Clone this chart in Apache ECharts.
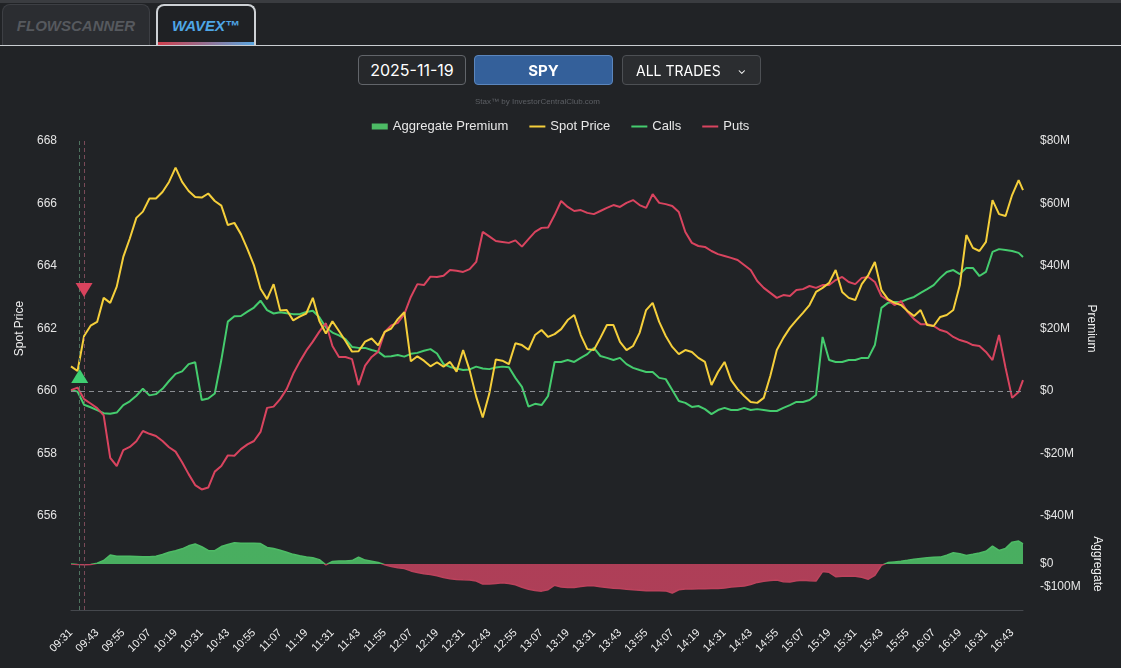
<!DOCTYPE html>
<html>
<head>
<meta charset="utf-8">
<script src="https://cdn.jsdelivr.net/npm/echarts@6/dist/echarts.min.js"></script>
<style>
  html,body{margin:0;padding:0;width:1121px;height:668px;background:#212326;overflow:hidden;font-family:"Liberation Sans",Arial,sans-serif;}
  #topstrip{position:absolute;left:0;top:0;width:1121px;height:3px;background:#3a3c40;}
  #tabline{position:absolute;left:0;top:45px;width:1121px;height:1px;background:#c9cdd1;}
  .tab{position:absolute;top:4px;height:41px;box-sizing:border-box;border-radius:8px 8px 0 0;font-style:italic;font-weight:bold;font-size:15px;display:flex;align-items:center;justify-content:center;font-family:"Liberation Sans",Arial,sans-serif;}
  #tab1{left:2px;width:148px;background:#2b2d31;border:1px solid #3d3f44;border-bottom:none;color:#56595e;}
  #tab2{left:156px;width:100px;background:#1f2124;border:2px solid #cdd1d5;border-bottom:none;color:#4ea6e6;}
  #tab2bar{position:absolute;left:158px;top:42px;width:96px;height:3px;background:linear-gradient(90deg,#d0404e,#9a6a8a 45%,#5aa6e0);}
  .ctl{position:absolute;top:55px;height:30px;box-sizing:border-box;border-radius:4px;color:#fff;display:flex;align-items:center;font-family:Inter,"Liberation Sans",sans-serif;}
  #date{left:358px;width:108px;border:1px solid #62656a;background:#26282b;justify-content:center;font-size:16px;}
  #sym{left:474px;width:139px;border:1px solid #5b86bd;background:#34609a;justify-content:center;font-size:15px;font-weight:bold;}
  #trades{left:622px;width:139px;border:1px solid #4d5054;background:#2b2d30;font-size:14px;padding-left:13px;}
  #chev{position:absolute;right:14px;top:7px;font-size:11px;}
  #wm{position:absolute;left:0;width:1075px;top:97px;text-align:center;font-size:8px;color:#5c5f64;}
  #chart{position:absolute;left:0;top:0;width:1121px;height:668px;}
</style>
</head>
<body>
<div id="chart"></div>
<div id="topstrip"></div>
<div class="tab" id="tab1">FLOWSCANNER</div>
<div class="tab" id="tab2">WAVEX™</div>
<div id="tab2bar"></div>
<div id="tabline"></div>
<div class="ctl" id="date">2025-11-19</div>
<div class="ctl" id="sym">SPY</div>
<div class="ctl" id="trades">ALL TRADES<span id="chev">&#8964;</span></div>
<div id="wm">Stax™ by InvestorCentralClub.com</div>
<script>
// minute categories 09:31 .. 16:48
const times = [];
for (let m = 9 * 60 + 31; m <= 16 * 60 + 48; m++) {
  const h = Math.floor(m / 60), mm = m % 60;
  times.push(String(h).padStart(2, '0') + ':' + String(mm).padStart(2, '0'));
}
// values are read every 3 minutes (plus the last minute)
const sampleTimes = times.filter((t, i) => i % 3 === 0 || i === times.length - 1);

const spotPrice = [
660.79,660.64,661.76,662.09,662.21,662.98,662.82,663.34,664.29,664.88,
665.54,665.74,666.16,666.16,666.37,666.69,667.15,666.69,666.40,666.21,
666.19,666.32,666.08,665.93,665.31,665.38,665.02,664.54,664.02,663.27,
662.94,663.42,662.58,662.59,662.26,662.38,662.48,662.98,662.24,661.84,
662.23,661.92,661.60,661.26,661.27,661.58,661.68,661.46,661.89,662.00,
662.30,662.52,660.95,661.11,660.97,660.79,660.92,660.78,660.93,660.62,
661.31,660.66,659.82,659.15,659.91,661.01,660.97,660.86,661.53,661.47,
661.32,661.79,661.95,661.73,661.82,661.98,662.27,662.43,661.79,661.34,
661.31,661.70,662.11,662.11,661.57,661.31,661.44,661.86,662.59,662.82,
662.21,661.76,661.41,661.18,661.31,661.25,661.06,660.93,660.19,660.61,
660.93,660.35,660.06,659.84,659.65,659.62,659.78,660.48,661.31,661.70,
662.02,662.27,662.50,662.75,663.17,663.30,663.46,663.87,663.17,662.98,
662.91,663.42,663.71,664.13,663.23,662.94,662.82,662.75,662.56,662.40,
662.59,662.11,662.08,662.37,662.43,662.59,663.39,664.99,664.58,664.48,
664.77,666.11,665.66,665.60,666.27,666.75,666.43];

const callsPremium = [
0.3,-0.2,-4.4,-5.2,-6.1,-7.1,-7.3,-6.9,-4.5,-3.3,
-1.5,0.7,-1.4,-1.0,0.7,3.2,5.5,6.3,8.6,9.2,
-2.9,-2.4,-0.8,9.9,22.2,23.9,24.0,25.4,26.7,28.9,
25.9,24.8,25.2,24.9,24.6,24.6,25.3,25.7,23.6,20.3,
18.7,17.8,16.6,14.1,13.8,13.8,13.1,12.6,11.0,11.1,
11.5,11.0,11.9,12.2,12.9,13.4,12.0,8.6,7.7,7.2,
6.7,6.9,7.8,7.2,7.0,7.5,7.8,7.6,4.2,1.3,
-5.0,-4.1,-4.5,-1.6,9.3,9.3,9.9,9.3,10.6,11.8,
13.8,11.2,10.6,9.9,10.6,8.6,7.4,6.7,6.1,6.1,
4.2,3.8,0.3,-3.2,-3.8,-5.1,-4.8,-5.8,-7.4,-6.1,
-5.4,-6.1,-6.1,-5.4,-6.1,-5.8,-6.1,-6.4,-6.4,-5.4,
-4.5,-3.5,-3.5,-2.9,-1.3,17.3,9.9,9.3,9.3,9.9,
9.9,10.6,10.6,14.7,26.6,28.2,28.5,28.5,29.4,30.1,
31.4,32.6,33.9,36.2,38.1,38.7,37.4,39.4,39.4,36.8,
38.1,44.5,45.4,45.1,44.8,44.2,42.9];

const putsPremium = [
0.3,1.1,-2.6,-4.0,-5.5,-7.8,-21.4,-24.0,-18.9,-17.9,
-16.1,-12.8,-13.7,-14.4,-16.0,-18.0,-19.4,-22.8,-26.6,-30.1,
-31.5,-30.9,-25.8,-24.0,-20.6,-20.7,-18.6,-17.1,-16.0,-13.1,
-5.4,-5.0,-2.6,0.6,5.5,9.4,12.9,15.8,19.0,21.7,
14.4,10.9,10.9,10.2,1.9,8.1,10.9,12.6,18.9,21.0,
21.8,24.6,30.1,34.2,33.9,36.6,36.5,36.9,38.7,38.5,
38.1,39.0,41.3,50.9,49.5,48.0,47.7,47.4,48.2,46.2,
48.6,50.9,52.2,52.3,56.3,60.8,58.9,57.6,57.9,57.0,
56.6,57.6,58.6,59.5,58.9,60.2,61.1,59.5,58.6,63.0,
60.2,59.8,59.2,57.3,50.9,47.4,46.4,46.1,44.8,43.8,
43.2,42.6,41.9,40.3,38.7,35.2,33.0,31.4,29.8,30.7,
30.4,32.3,32.6,33.6,33.0,33.9,33.9,35.5,36.5,34.9,
34.2,36.2,36.5,34.9,30.4,29.1,27.5,28.8,25.3,23.0,
21.4,21.4,20.8,19.5,18.9,17.3,16.3,15.7,14.7,14.4,
12.5,9.9,17.9,7.4,-2.2,-0.3,3.5];

const aggregatePremium = [
0,-2,-3,-2,3,15,39,34,34,34,
33,31,31,34,41,51,58,66,79,87,
75,59,58,76,85,92,90,90,90,89,
72,67,60,51,42,36,31,27,19,-4,
11,13,13,15,30,17,12,7,-3,-11,
-16,-20,-30,-37,-42,-46,-51,-59,-64,-67,
-69,-70,-74,-87,-87,-85,-82,-85,-90,-101,
-110,-115,-118,-112,-92,-100,-102,-102,-98,-95,
-95,-99,-102,-105,-107,-110,-112,-114,-116,-116,
-116,-117,-126,-112,-109,-109,-108,-108,-107,-106,
-104,-100,-98,-96,-89,-80,-75,-72,-70,-77,
-78,-73,-71,-73,-74,-33,-36,-55,-53,-52,
-53,-58,-66,-49,-6,6,9,12,16,21,
24,27,29,30,38,49,45,37,42,48,
55,78,59,68,95,100,87];

const spotTicks = {min: 656, max: 668, interval: 2};
const premiumTicks = {min: -40, max: 80, interval: 20};
const aggregateTicks = {min: -200, max: 200, interval: 100};
const aggregateShownLabels = [0, -100];
const buySignal = {time: '09:35', price: 660.48};
const sellSignal = {time: '09:37', price: 663.23};

const C_YELLOW = '#f5cf3b', C_GREEN = '#45cc6e', C_RED = '#d9445f';
const AGG_GREEN = '#4dbb65', AGG_RED = '#bb425c';
const FONT = '"Liberation Sans", Arial, sans-serif';
const LINE_ICON = 'path://M0,0 L16,0 L16,2 L0,2 Z';

function money(v) {
  if (v === 0) return '$0';
  return (v < 0 ? '-$' : '$') + Math.abs(v) + 'M';
}
const pair = arr => sampleTimes.map((t, k) => [t, arr[k]]);

function signalLines() {
  return {
    symbol: 'none', silent: true, label: {show: false},
    lineStyle: {type: [4, 3], width: 1},
    data: [
      {xAxis: buySignal.time, lineStyle: {color: '#4f7360', type: [4, 3], width: 1}},
      {xAxis: sellSignal.time, lineStyle: {color: '#7a4a58', type: [4, 3], width: 1}}
    ]
  };
}

const chart = echarts.init(document.getElementById('chart'), null, {renderer: 'canvas'});
const axisText = {color: '#e4e4e4', fontSize: 12, fontFamily: FONT};

chart.setOption({
  animation: false,
  backgroundColor: 'transparent',
  textStyle: {fontFamily: FONT},
  legend: {
    top: 115, left: 'center', itemGap: 21, itemWidth: 16, itemHeight: 6,
    textStyle: {color: '#e8e8e8', fontSize: 13, fontFamily: FONT},
    data: [
      {name: 'Aggregate Premium', icon: 'rect', itemStyle: {color: AGG_GREEN}},
      {name: 'Spot Price', icon: LINE_ICON},
      {name: 'Calls', icon: LINE_ICON},
      {name: 'Puts', icon: LINE_ICON}
    ]
  },
  grid: [
    {left: 71, right: 98, top: 141, height: 375},
    {left: 71, right: 98, top: 518, height: 92}
  ],
  xAxis: [
    {type: 'category', gridIndex: 0, data: times, boundaryGap: false, show: false},
    {type: 'category', gridIndex: 1, data: times, boundaryGap: false,
     axisLine: {onZero: false, lineStyle: {color: '#45484d'}}, axisTick: {show: false},
     axisLabel: {interval: 11, rotate: 45, color: '#f0f0f0', fontSize: 11, fontFamily: FONT, margin: 21}}
  ],
  yAxis: [
    {type: 'value', gridIndex: 0, position: 'left', min: spotTicks.min, max: spotTicks.max, interval: spotTicks.interval,
     name: 'Spot Price', nameLocation: 'middle', nameGap: 42, nameTextStyle: {color: '#f0f0f0', fontSize: 12, fontFamily: FONT},
     axisLine: {show: false}, axisTick: {show: false}, splitLine: {show: false},
     axisLabel: Object.assign({margin: 14}, axisText)},
    {type: 'value', gridIndex: 0, position: 'right', min: premiumTicks.min, max: premiumTicks.max, interval: premiumTicks.interval,
     name: 'Premium', nameLocation: 'middle', nameGap: 62, nameRotate: -90, nameTextStyle: {color: '#f0f0f0', fontSize: 12, fontFamily: FONT},
     axisLine: {show: false}, axisTick: {show: false}, splitLine: {show: false},
     axisLabel: Object.assign({margin: 17, formatter: money}, axisText)},
    {type: 'value', gridIndex: 1, position: 'right', min: aggregateTicks.min, max: aggregateTicks.max, interval: aggregateTicks.interval,
     name: 'Aggregate', nameLocation: 'middle', nameGap: 68, nameRotate: -90, nameTextStyle: {color: '#f0f0f0', fontSize: 12, fontFamily: FONT},
     axisLine: {show: false}, axisTick: {show: false}, splitLine: {show: false},
     axisLabel: Object.assign({margin: 17,
       formatter: v => aggregateShownLabels.indexOf(v) >= 0 ? money(v) : ''}, axisText)}
  ],
  visualMap: {
    type: 'piecewise', show: false, seriesIndex: 3, dimension: 1,
    pieces: [{gt: 0, lte: 1000, color: AGG_GREEN}, {gte: -1000, lte: 0, color: AGG_RED}],
    outOfRange: {color: AGG_RED}
  },
  series: [
    {name: 'Spot Price', type: 'line', xAxisIndex: 0, yAxisIndex: 0, data: pair(spotPrice),
     showSymbol: false, symbol: 'none', lineStyle: {width: 2, color: C_YELLOW}, itemStyle: {color: C_YELLOW}, z: 4,
     markLine: signalLines(),
     markPoint: {
       silent: true, label: {show: false},
       data: [
         {coord: [buySignal.time, buySignal.price], symbol: 'triangle', symbolSize: [17, 14], itemStyle: {color: '#3fcf72'}},
         {coord: [sellSignal.time, sellSignal.price], symbol: 'triangle', symbolRotate: 180, symbolSize: [17, 14], itemStyle: {color: '#d9435e'}}
       ]
     }},
    {name: 'Calls', type: 'line', xAxisIndex: 0, yAxisIndex: 1, data: pair(callsPremium),
     showSymbol: false, symbol: 'none', lineStyle: {width: 2, color: C_GREEN}, itemStyle: {color: C_GREEN}, z: 3,
     markLine: {symbol: 'none', silent: true, label: {show: false},
       lineStyle: {type: [5, 4], width: 1, color: '#8a8d92'}, data: [{yAxis: 0}]}},
    {name: 'Puts', type: 'line', xAxisIndex: 0, yAxisIndex: 1, data: pair(putsPremium),
     showSymbol: false, symbol: 'none', lineStyle: {width: 2, color: C_RED}, itemStyle: {color: C_RED}, z: 3},
    {name: 'Aggregate Premium', type: 'line', xAxisIndex: 1, yAxisIndex: 2, data: pair(aggregatePremium),
     showSymbol: false, symbol: 'none', lineStyle: {width: 1.5}, itemStyle: {color: AGG_GREEN},
     areaStyle: {opacity: 0.92}, markLine: signalLines()}
  ]
});
</script>
</body>
</html>
